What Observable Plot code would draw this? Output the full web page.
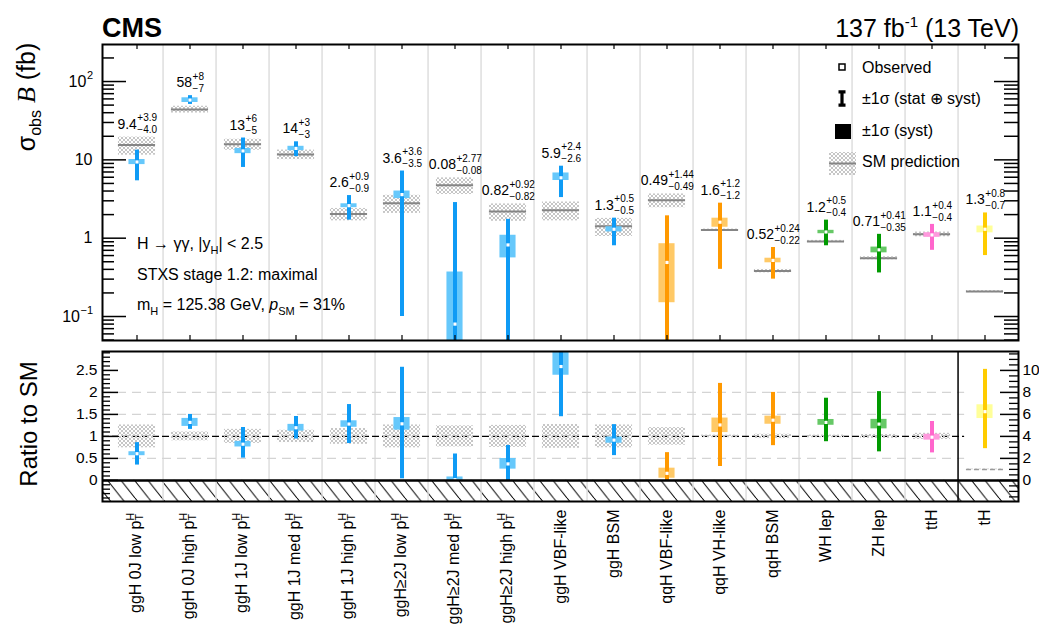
<!DOCTYPE html>
<html><head><meta charset="utf-8">
<script src="https://cdn.jsdelivr.net/npm/d3@7"></script>
<script src="https://cdn.jsdelivr.net/npm/@observablehq/plot@0.6"></script>
<style>
body{margin:0;background:#fff;}
#chart{position:relative;width:1039px;height:624px;font-family:"Liberation Sans",Arial,Helvetica,sans-serif;}
#chart svg{position:absolute;left:0;overflow:visible;}
</style></head><body><div id="chart"></div>
<script>
// ---------------- DATA ----------------
const binLabels = ["ggH 0J low","ggH 0J high","ggH 1J low","ggH 1J med","ggH 1J high","ggH≥2J low","ggH≥2J med","ggH≥2J high","ggH VBF-like","ggH BSM","qqH VBF-like","qqH VH-like","qqH BSM","WH lep","ZH lep","ttH","tH"];
const labelHasPtH = [true,true,true,true,true,true,true,true,false,false,false,false,false,false,false,false,false];
const process = ["ggH","ggH","ggH","ggH","ggH","ggH","ggH","ggH","ggH","ggH","qqH","qqH","qqH","VH","VH","ttH","tH"];
const obsText = ["9.4","58","13","14","2.6","3.6","0.08","0.82","5.9","1.3","0.49","1.6","0.52","1.2","0.71","1.1","1.3"];
const errUpText = ["+3.9","+8","+6","+3","+0.9","+3.6","+2.77","+0.92","+2.4","+0.5","+1.44","+1.2","+0.24","+0.5","+0.41","+0.4","+0.8"];
const errDownText = ["−4.0","−7","−5","−3","−0.9","−3.5","−0.08","−0.82","−2.6","−0.5","−0.49","−1.2","−0.22","−0.4","−0.35","−0.4","−0.7"];
const systUp = [0.7,4,1,0.9,0.15,0.4,0.29,0.27,0.9,0.1,0.36,0.2,0.035,0.06,0.06,0.075,0.13];
const systDown = [0.7,4,1,0.9,0.15,0.4,0.08,0.26,0.45,0.1,0.34,0.22,0.035,0.06,0.06,0.075,0.13];
const smPred = [15.5,44,15.8,11.7,2.03,2.8,4.75,2.19,2.28,1.42,3.06,1.27,0.38,0.91,0.555,1.12,0.208];
const smUnc = [0.26,0.10,0.16,0.14,0.18,0.26,0.24,0.25,0.27,0.26,0.20,0.03,0.05,0.03,0.045,0.07,0.03];
const rightAxisBins = ["tH"];
const rightAxisScale = 4;
const yTopTicks = [0.1, 1, 10, 100];
const yTopTickBase = ["10", "1", "10", "10"];
const yTopTickExp = ["−1", "", "", "2"];
const yRatioTicks = [0, 0.5, 1, 1.5, 2, 2.5];
const yRatioGrid = [0.5, 1.5, 2];
const yRightTicks = [0, 2, 4, 6, 8, 10];

// ---------------- STYLE / LAYOUT ----------------
const barColor = {ggH:"#0f9bf5", qqH:"#ff9900", VH:"#009a00", ttH:"#ff66cc", tH:"#ffcc00"};
const boxColor = {ggH:"#66c8fb", qqH:"#ffc966", VH:"#66c866", ttH:"#ff99dd", tH:"#ffff99"};
const FONT = "'Liberation Sans', Arial, Helvetica, sans-serif";
const W = 1039, mL = 102, mR = 21;
const plotW = W - mL - mR;
const bw = plotW / binLabels.length;
const topH = 345, topMT = 44, topMB = 5, topPH = topH - topMT - topMB;
const lowTop = 345, lowH = 279, lowMT = 6, lowMB = 123, lowPH = lowH - lowMT - lowMB;
const yTopDomain = [0.0494, 297];
const yLowDomain = [-0.48, 2.93];
const smInset = (bw - 38) / 2, boxInset = (bw - 17) / 2;
const FS_MAIN = 14, FS_SUP = 10, FS_BIN = 16;

const num = s => +s.replace("−", "-");
const rows = binLabels.map((cat, i) => {
  const obs = num(obsText[i]);
  return {cat, proc: process[i], obsText: obsText[i], upText: errUpText[i], dnText: errDownText[i],
    obs, hi: obs + num(errUpText[i]), lo: obs + num(errDownText[i]),
    sHi: obs + systUp[i], sLo: obs - systDown[i], sm: smPred[i], u: smUnc[i],
    k: rightAxisBins.includes(cat) ? rightAxisScale : 1, pt: labelHasPtH[i]};
});
const cT = v => Math.min(Math.max(v, yTopDomain[0]), yTopDomain[1]);
const cL = v => Math.min(Math.max(v, yLowDomain[0]), yLowDomain[1]);
const R = (d, v) => cL(v / d.sm / d.k);

// text width estimate (Helvetica metrics)
const cw = {".":0.278, "+":0.584, "−":0.584};
const tw = (s, fs) => d3.sum([...s], ch => cw[ch] ?? 0.556) * fs;

const style = {fontFamily: FONT, fontSize: "15px", color: "black", background: "transparent", overflow: "visible"};

// ---------------- TOP PANEL ----------------
const topMinor = [];
for (const e of [-2, -1, 0, 1, 2]) for (let m = 2; m <= 9; m++) {
  const v = m * Math.pow(10, e);
  if (v >= yTopDomain[0] && v <= yTopDomain[1]) topMinor.push(v);
}
const labelMarks = rows.flatMap(d => {
  const wMain = tw(d.obsText, FS_MAIN);
  const wSup = Math.max(tw(d.upText, FS_SUP), tw(d.dnText, FS_SUP));
  const xEnd = -(wMain + wSup) / 2 + wMain;
  const ytop = cT(Math.max(d.hi, d.sm * (1 + d.u)));
  return [
    Plot.text([d], {x: "cat", y: () => ytop, text: "obsText", textAnchor: "end", dx: xEnd, dy: -13, fontSize: FS_MAIN}),
    Plot.text([d], {x: "cat", y: () => ytop, text: "upText", textAnchor: "start", dx: xEnd + 0.5, dy: -19, fontSize: FS_SUP}),
    Plot.text([d], {x: "cat", y: () => ytop, text: "dnText", textAnchor: "start", dx: xEnd + 0.5, dy: -7, fontSize: FS_SUP})
  ];
});
const topTickLabelMarks = yTopTicks.flatMap((t, i) => {
  const wExp = tw(yTopTickExp[i], 11);
  return [
    Plot.text([t], {y: d => d, text: () => yTopTickBase[i], frameAnchor: "left", textAnchor: "end", dx: -10 - wExp, fontSize: 16}),
    Plot.text([t], {y: d => d, text: () => yTopTickExp[i], frameAnchor: "left", textAnchor: "start", dx: -10 - wExp + 0.5, dy: -6, fontSize: 11})
  ];
});

const topPlot = Plot.plot({
  width: W, height: topH, marginLeft: mL, marginRight: mR, marginTop: topMT, marginBottom: topMB,
  style,
  x: {type: "band", domain: binLabels, padding: 0, axis: null},
  y: {type: "log", domain: yTopDomain, axis: null},
  color: {type: "identity"},
  marks: [
    Plot.ruleX(binLabels.slice(1), {x: d => d, dx: -bw / 2, stroke: "#dedede", strokeWidth: 1.5}),
    Plot.barY(rows, {x: "cat", y1: d => cT(d.sm * (1 - d.u)), y2: d => cT(d.sm * (1 + d.u)), fill: "url(#smpatA)", insetLeft: smInset, insetRight: smInset}),
    Plot.tickY(rows, {x: "cat", y: "sm", stroke: "#858585", strokeWidth: 2, insetLeft: smInset, insetRight: smInset}),
    Plot.barY(rows, {x: "cat", y1: d => cT(d.sLo), y2: d => cT(d.sHi), fill: d => boxColor[d.proc], insetLeft: boxInset, insetRight: boxInset}),
    Plot.ruleX(rows, {x: "cat", y1: d => cT(d.lo), y2: d => cT(d.hi), stroke: d => barColor[d.proc], strokeWidth: 4}),
    Plot.dot(rows, {x: "cat", y: "obs", symbol: "square", r: 1.8, fill: "white", stroke: null}),
    ...labelMarks,
    // ticks (inward, ROOT style)
    Plot.ruleY(yTopTicks, {y: d => d, insetRight: plotW - 24, stroke: "black", strokeWidth: 1.5}),
    Plot.ruleY(topMinor, {y: d => d, insetRight: plotW - 12, stroke: "black", strokeWidth: 1.5}),
    Plot.ruleY(yTopTicks, {y: d => d, insetLeft: plotW - 24, stroke: "black", strokeWidth: 1.5}),
    Plot.ruleY(topMinor, {y: d => d, insetLeft: plotW - 14, stroke: "black", strokeWidth: 1.5}),
    Plot.ruleX(binLabels, {x: d => d, insetBottom: topPH - 5, stroke: "black", strokeWidth: 1.2}),
    Plot.ruleX(binLabels, {x: d => d, insetTop: topPH - 5, stroke: "black", strokeWidth: 1.2}),
    ...topTickLabelMarks,
    Plot.frame({stroke: "black", strokeWidth: 2})
  ]
});

// ---------------- RATIO PANEL ----------------
const lowMinor = [];
for (let t = -4; t <= 29; t++) if (t % 5 !== 0) lowMinor.push(t / 10);
const rightMinor = [];
for (let t = -3; t <= 23; t++) if (t % 4 !== 0) rightMinor.push(t / 2);

const lowPlot = Plot.plot({
  width: W, height: lowH, marginLeft: mL, marginRight: mR, marginTop: lowMT, marginBottom: lowMB,
  style,
  x: {type: "band", domain: binLabels, padding: 0, axis: null},
  y: {type: "linear", domain: yLowDomain, axis: null},
  color: {type: "identity"},
  marks: [
    Plot.rect([0], {y1: yLowDomain[0], y2: 0, fill: "url(#hatchB)"}),
    Plot.ruleX(binLabels.slice(1).filter(c => !rightAxisBins.includes(c)), {x: d => d, dx: -bw / 2, stroke: "#dedede", strokeWidth: 1.5}),
    Plot.ruleY(yRatioGrid, {y: d => d, insetRight: bw, stroke: "#d4d4d4", strokeWidth: 1.3, strokeDasharray: "9,6"}),
    Plot.ruleY([1], {y: d => d, insetRight: bw, stroke: "black", strokeWidth: 1.3, strokeDasharray: "7,3"}),
    Plot.barY(rows, {x: "cat", y1: d => R(d, d.sm * (1 - d.u)), y2: d => R(d, d.sm * (1 + d.u)), fill: "url(#smpatB)", insetLeft: smInset, insetRight: smInset}),
    Plot.tickY(rows.filter(d => d.k !== 1), {x: "cat", y: d => R(d, d.sm), stroke: "#9a9a9a", strokeWidth: 1.5, strokeDasharray: "5,3", insetLeft: smInset, insetRight: smInset}),
    Plot.barY(rows, {x: "cat", y1: d => R(d, d.sLo), y2: d => R(d, d.sHi), fill: d => boxColor[d.proc], insetLeft: boxInset, insetRight: boxInset}),
    Plot.ruleX(rows, {x: "cat", y1: d => R(d, Math.max(d.lo, 0)), y2: d => R(d, d.hi), stroke: d => barColor[d.proc], strokeWidth: 4}),
    Plot.dot(rows, {x: "cat", y: d => R(d, d.obs), symbol: "square", r: 1.8, fill: "white", stroke: null}),
    Plot.ruleY([0], {y: d => d, stroke: "black", strokeWidth: 2.5}),
    Plot.ruleX(rightAxisBins, {x: d => d, dx: -bw / 2, stroke: "black", strokeWidth: 1.5}),
    // left axis ticks
    Plot.ruleY(yRatioTicks, {y: d => d, insetRight: plotW - 16, stroke: "black", strokeWidth: 1.5}),
    Plot.ruleY(lowMinor, {y: d => d, insetRight: plotW - 8, stroke: "black", strokeWidth: 1.3}),
    Plot.text(yRatioTicks, {y: d => d, text: d => String(d), frameAnchor: "left", textAnchor: "end", dx: -5, fontSize: 15.5}),
    // right axis (tH, scaled)
    Plot.ruleY(yRightTicks, {y: d => d / rightAxisScale, insetLeft: plotW - 18, stroke: "black", strokeWidth: 1.5}),
    Plot.ruleY(rightMinor, {y: d => d / rightAxisScale, insetLeft: plotW - 9, stroke: "black", strokeWidth: 1.3}),
    Plot.text(yRightTicks, {y: d => d / rightAxisScale, text: d => String(d), frameAnchor: "right", textAnchor: "start", dx: 4, fontSize: 15.5}),
    Plot.frame({stroke: "black", strokeWidth: 2}),
    // bin labels
    Plot.text(rows.filter(d => !d.pt), {x: "cat", text: "cat", frameAnchor: "bottom", rotate: -90, textAnchor: "end", lineAnchor: "middle", dy: 8, fontSize: FS_BIN}),
    Plot.text(rows.filter(d => d.pt), {x: "cat", text: d => d.cat + " p", frameAnchor: "bottom", rotate: -90, textAnchor: "end", lineAnchor: "middle", dy: 19, dx: -1, fontSize: FS_BIN}),
    Plot.text(rows.filter(d => d.pt), {x: "cat", text: () => "H", frameAnchor: "bottom", rotate: -90, textAnchor: "start", lineAnchor: "middle", dy: 19, dx: -6, fontSize: 10.5}),
    Plot.text(rows.filter(d => d.pt), {x: "cat", text: () => "T", frameAnchor: "bottom", rotate: -90, textAnchor: "start", lineAnchor: "middle", dy: 19, dx: 3, fontSize: 10.5})
  ]
});

function addPatterns(svg, sfx) {
  const defs = d3.select(svg).insert("defs", ":first-child");
  const p = defs.append("pattern").attr("id", "smpat" + sfx).attr("patternUnits", "userSpaceOnUse").attr("width", 4).attr("height", 4);
  p.append("path").attr("d", "M0,0L4,4M4,0L0,4").attr("stroke", "#c6c6c6").attr("stroke-width", 1).attr("fill", "none");
  const h = defs.append("pattern").attr("id", "hatch" + sfx).attr("patternUnits", "userSpaceOnUse").attr("width", 13.5).attr("height", 17);
  h.append("path").attr("d", "M0,0L13.5,17M-13.5,0L0,17M13.5,0L27,17").attr("stroke", "black").attr("stroke-width", 1);
}
addPatterns(topPlot, "A");
addPatterns(lowPlot, "B");

const chart = document.getElementById("chart");
topPlot.style.top = "0px";
lowPlot.style.top = lowTop + "px";
chart.appendChild(topPlot);
chart.appendChild(lowPlot);

// ---------------- OVERLAY TEXT & LEGEND ----------------
const ov = d3.create("svg").attr("width", W).attr("height", 624)
  .style("position", "absolute").style("top", "0px").style("left", "0px").style("pointer-events", "none")
  .attr("font-family", FONT);
ov.append("text").attr("x", 102).attr("y", 37).attr("font-size", 27).attr("font-weight", "bold").text("CMS");
const lum = ov.append("text").attr("x", 1019).attr("y", 37).attr("font-size", 25).attr("text-anchor", "end");
lum.append("tspan").text("137 fb");
lum.append("tspan").attr("font-size", 15).attr("dy", -10).text("-1");
lum.append("tspan").attr("dy", 10).text(" (13 TeV)");

const yt = ov.append("text").attr("transform", "translate(35,97) rotate(-90)").attr("text-anchor", "middle").attr("font-size", 25);
yt.append("tspan").text("σ");
yt.append("tspan").attr("font-size", 16).attr("dy", 6).text("obs");
yt.append("tspan").attr("dy", -6).text(" ");
yt.append("tspan").attr("font-family", "'Liberation Serif', 'DejaVu Serif', serif").attr("font-style", "italic").attr("font-size", 26).text("B");
yt.append("tspan").text(" (fb)");
ov.append("text").attr("transform", "translate(37,424) rotate(-90)").attr("text-anchor", "middle").attr("font-size", 24).text("Ratio to SM");

const a1 = ov.append("text").attr("x", 137).attr("y", 249).attr("font-size", 16);
a1.append("tspan").text("H → γγ, |y");
a1.append("tspan").attr("font-size", 11).attr("dy", 5).text("H");
a1.append("tspan").attr("dy", -5).text("| < 2.5");
ov.append("text").attr("x", 137).attr("y", 280).attr("font-size", 16).text("STXS stage 1.2: maximal");
const a3 = ov.append("text").attr("x", 137).attr("y", 310).attr("font-size", 16);
a3.append("tspan").text("m");
a3.append("tspan").attr("font-size", 11).attr("dy", 5).text("H");
a3.append("tspan").attr("dy", -5).text(" = 125.38 GeV, ");
a3.append("tspan").attr("font-style", "italic").text("p");
a3.append("tspan").attr("font-size", 11).attr("dy", 5).text("SM");
a3.append("tspan").attr("dy", -5).text(" = 31%");

// legend
const lg = ov.append("g");
lg.append("rect").attr("x", 839).attr("y", 64).attr("width", 6).attr("height", 6).attr("fill", "white").attr("stroke", "black").attr("stroke-width", 1.5);
lg.append("path").attr("d", "M842,91V106M838.5,91.8H845.5M838.5,105.2H845.5").attr("stroke", "black").attr("stroke-width", 3.2);
lg.append("rect").attr("x", 835).attr("y", 124).attr("width", 16).attr("height", 15).attr("fill", "black");
lg.append("rect").attr("x", 829).attr("y", 152).attr("width", 27).attr("height", 23).attr("fill", "url(#smpatA)");
lg.append("line").attr("x1", 829).attr("x2", 856).attr("y1", 163.5).attr("y2", 163.5).attr("stroke", "#858585").attr("stroke-width", 2);
const lgText = [["Observed", 73], ["±1σ (stat ⊕ syst)", 104], ["±1σ (syst)", 136], ["SM prediction", 167]];
lgText.forEach(([t, y]) => lg.append("text").attr("x", 862).attr("y", y).attr("font-size", 16).text(t));

chart.appendChild(ov.node());
</script>
</body></html>
